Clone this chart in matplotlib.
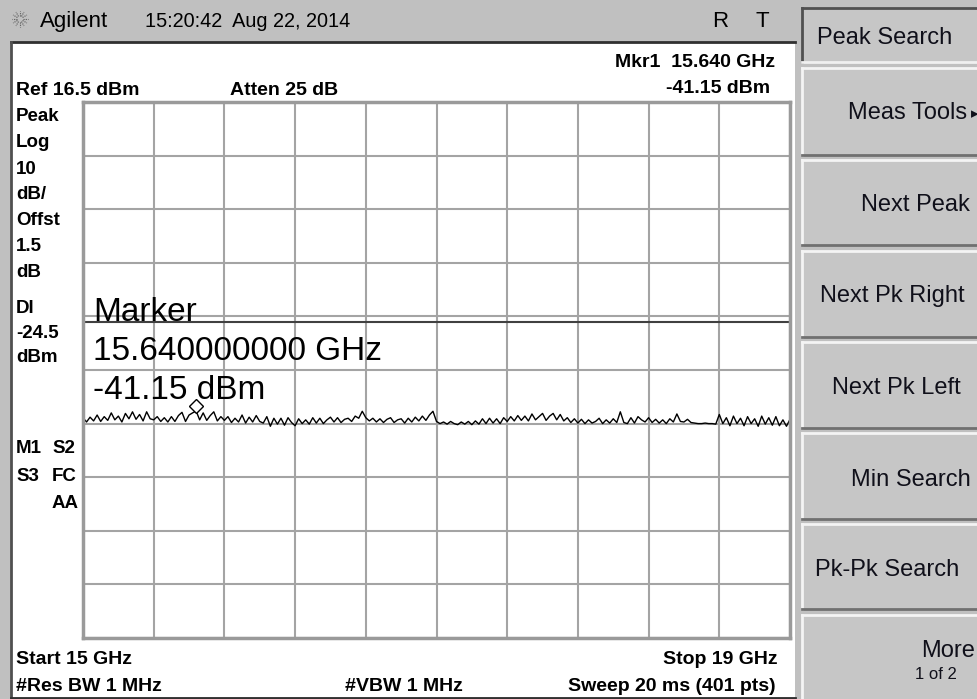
import numpy as np
import matplotlib.pyplot as plt
from matplotlib.patches import Rectangle
from matplotlib.transforms import offset_copy

W, H = 977, 699

# analyzer settings shown on screen
start_ghz = 15.0
stop_ghz = 19.0
ref_dbm = 16.5
db_per_div = 10
n_div = 10
display_line_dbm = -24.5
marker_ghz = 15.64
marker_dbm = -41.15

# trace (dBm), 20 MHz steps from 15 to 19 GHz
trace_dbm = [
    -42.4, -43.2, -42.3, -43.0, -41.9, -43.1, -42.2, -42.9, -41.5, -42.8,
    -42.1, -43.2, -41.6, -42.6, -41.3, -42.7, -41.8, -43.0, -41.3, -42.6,
    -42.8, -42.2, -43.1, -42.4, -43.2, -42.2, -43.1, -42.0, -41.4, -43.1,
    -41.9, -41.5, -41.15, -42.8, -41.5, -42.9, -42.0, -41.3, -43.0, -42.2,
    -42.9, -42.2, -43.3, -42.5, -43.2, -41.9, -43.4, -42.3, -43.2, -42.0,
    -43.1, -43.4, -42.2, -44.0, -42.5, -43.6, -42.5, -43.8, -42.4, -43.3,
    -43.9, -42.6, -43.5, -42.8, -43.6, -42.4, -43.4, -42.5, -43.5, -42.8,
    -42.3, -43.2, -42.4, -43.3, -42.7, -42.5, -43.1, -42.1, -42.5, -41.2,
    -42.4, -43.0, -42.5, -43.2, -42.6, -43.3, -42.7, -42.4, -43.3, -42.8,
    -42.6, -43.4, -42.5, -43.2, -42.3, -43.0, -42.1, -42.9, -41.9, -41.2,
    -43.1, -43.5, -43.2, -43.6, -43.1, -43.5, -43.7, -43.2, -43.6, -43.1,
    -43.7, -43.0, -43.6, -42.6, -43.5, -42.5, -43.4, -42.6, -43.5, -42.4,
    -43.1, -42.2, -43.0, -42.0, -42.9, -42.1, -43.0, -41.7, -42.8, -42.2,
    -41.6, -42.9, -42.1, -41.6, -42.8, -41.8, -43.0, -42.4, -43.3, -42.6,
    -43.4, -42.7, -43.5, -42.8, -43.4, -43.1, -42.5, -43.5, -42.8, -43.4,
    -42.6, -43.3, -41.3, -43.3, -43.5, -42.4, -43.4, -42.2, -42.8, -43.2,
    -42.4, -43.3, -42.7, -43.4, -42.8, -43.5, -42.6, -43.2, -41.7, -43.1,
    -43.2, -42.7, -43.3, -43.4, -43.5, -43.5, -43.4, -43.5, -43.5, -43.6,
    -41.8, -43.5, -42.4, -43.9, -42.1, -43.5, -42.5, -43.9, -42.2, -43.5,
    -42.6, -44.0, -42.1, -43.6, -42.4, -43.8, -42.2, -43.9, -42.8, -44.0,
    -42.7,
]

softkeys = ["Peak Search", "Meas Tools", "Next Peak", "Next Pk Right",
            "Next Pk Left", "Min Search", "Pk-Pk Search", "More"]

FONT = ["Liberation Sans", "DejaVu Sans"]

fig = plt.figure(figsize=(W / 100, H / 100), dpi=100)
fig.patch.set_facecolor("#c0c0c0")

# background layer in pixel coordinates
bg = fig.add_axes([0, 0, 1, 1])
bg.set_xlim(0, W)
bg.set_ylim(H, 0)
bg.axis("off")

# white display panel
bg.add_patch(Rectangle((12, 43), 783, 654, facecolor="white", edgecolor="none"))
bg.plot([11, 795], [42, 42], color="#303030", lw=2)
bg.plot([11, 11], [42, 698], color="#505050", lw=2)
bg.plot([11, 795], [698, 698], color="#303030", lw=2)

# agilent spark logo
for ang in np.arange(0, 360, 30):
    r = np.radians(ang)
    bg.plot([20 + 3 * np.cos(r), 20 + 8 * np.cos(r)],
            [19 + 3 * np.sin(r), 19 + 8 * np.sin(r)],
            color="#555555", lw=0.8, ls=(0, (1, 1)))

# softkey buttons
key_rows = [(8, 62), (68, 155), (160, 245), (251, 337),
            (342, 428), (433, 519), (524, 609), (615, 710)]
for i, (y0, y1) in enumerate(key_rows):
    bg.add_patch(Rectangle((802, y0), 180, y1 - y0, facecolor="#c6c6c6", edgecolor="none"))
    if i == 0:
        hi, lo = "#505050", "#f0f0f0"
    else:
        hi, lo = "#f4f4f4", "#707070"
    bg.plot([802, 980], [y0, y0], color=hi, lw=2)
    bg.plot([802, 802], [y0, y1], color=hi, lw=2)
    bg.plot([802, 980], [y1, y1], color=lo, lw=2)

# spectrum display
gx0, gx1, gy0, gy1 = 83, 790, 102, 638
ax = fig.add_axes([gx0 / W, 1 - gy1 / H, (gx1 - gx0) / W, (gy1 - gy0) / H])
ax.set_facecolor("none")
bottom_dbm = ref_dbm - db_per_div * n_div
ax.set_xlim(start_ghz, stop_ghz)
ax.set_ylim(bottom_dbm, ref_dbm)
ax.set_xticks(np.linspace(start_ghz, stop_ghz, n_div + 1))
ax.set_yticks(np.linspace(bottom_dbm, ref_dbm, n_div + 1))
ax.tick_params(length=0, labelbottom=False, labelleft=False)
ax.grid(True, color="#a4a4a4", lw=1.5)
for s in ax.spines.values():
    s.set_color("#9a9a9a")
    s.set_linewidth(2.5)

freqs = np.linspace(start_ghz, stop_ghz, len(trace_dbm))
ax.plot(freqs, trace_dbm, color="black", lw=1.0)
ax.axhline(display_line_dbm, color="#404040", lw=1.5)
mk_tr = offset_copy(ax.transData, fig=fig, x=0, y=5, units="dots")
ax.plot([marker_ghz], [marker_dbm], marker="D", ms=7, mfc="white", mec="black",
        mew=1.0, transform=mk_tr, clip_on=False)


def txt(x, y, s, size=14, weight="bold", ha="left", color="black"):
    fig.text(x / W, 1 - y / H, s, fontsize=size, fontweight=weight, ha=ha,
             va="baseline", family=FONT, color=color)


# title bar
txt(40, 27, "Agilent", size=16, weight="normal")
txt(145, 27, "15:20:42  Aug 22, 2014", size=14.3, weight="normal")
txt(712, 27, "R", size=16, weight="normal")
txt(756, 27, "T", size=16, weight="normal")

# header annotations
txt(775, 67, f"Mkr1  {marker_ghz:.3f} GHz", ha="right")
txt(770, 93, f"{marker_dbm:.2f} dBm", ha="right")
txt(16, 95, f"Ref {ref_dbm} dBm")
txt(230, 95, "Atten 25 dB")

left_col = [("Peak", 121), ("Log", 147), ("10", 174), ("dB/", 199),
            ("Offst", 225), ("1.5", 251), ("dB", 277), ("Dl", 313),
            (f"{display_line_dbm}", 338), ("dBm", 362)]
for s, y in left_col:
    txt(16, y, s, size=13.5)
txt(16, 453, "M1", size=13.5)
txt(52, 453, "S2", size=13.5)
txt(16, 481, "S3", size=13.5)
txt(52, 481, "FC", size=13.5)
txt(52, 508, "AA", size=13.5)

# big marker readout
txt(93, 321, "Marker", size=24, weight="normal")
txt(93, 360, f"{marker_ghz:.9f} GHz", size=24, weight="normal")
txt(93, 399, f"{marker_dbm:.2f} dBm", size=24, weight="normal")

# footer
txt(16, 664, f"Start {start_ghz:g} GHz")
txt(778, 664, f"Stop {stop_ghz:g} GHz", ha="right")
txt(16, 691, "#Res BW 1 MHz")
txt(345, 691, "#VBW 1 MHz")
txt(776, 691, "Sweep 20 ms (401 pts)", ha="right")

# softkey labels
kc = "#10101a"
txt(817, 44, softkeys[0], size=17, weight="normal", color=kc)
txt(967, 119, softkeys[1], size=17, weight="normal", ha="right", color=kc)
txt(971, 118, "\u25b8", size=11, weight="normal", color=kc)
txt(970, 211, softkeys[2], size=17, weight="normal", ha="right", color=kc)
txt(820, 302, softkeys[3], size=17, weight="normal", color=kc)
txt(832, 394, softkeys[4], size=17, weight="normal", color=kc)
txt(971, 486, softkeys[5], size=17, weight="normal", ha="right", color=kc)
txt(815, 576, softkeys[6], size=17, weight="normal", color=kc)
txt(975, 657, softkeys[7], size=17, weight="normal", ha="right", color=kc)
txt(957, 679, "1 of 2", size=12, weight="normal", ha="right", color=kc)

fig.savefig("out.png", dpi=100, facecolor=fig.get_facecolor())
